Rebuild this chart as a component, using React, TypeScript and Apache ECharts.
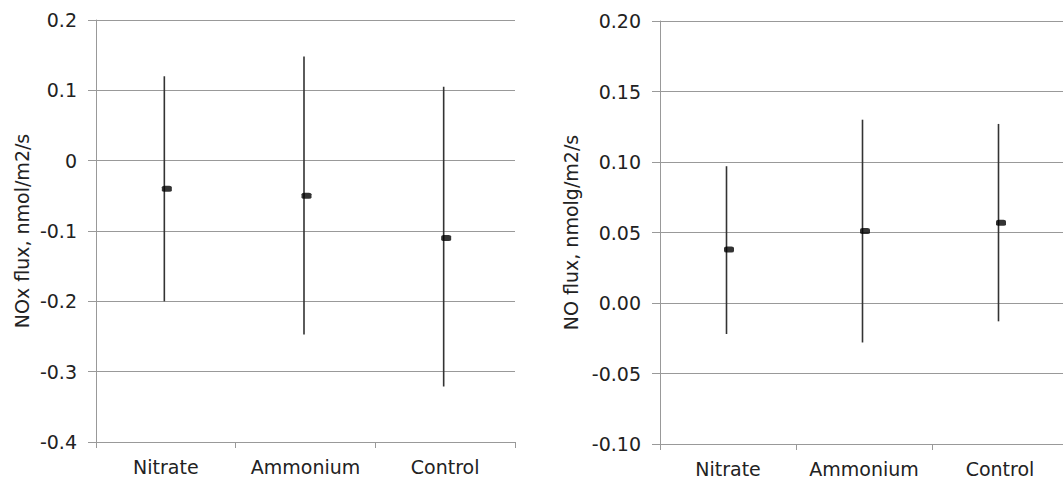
import React, { useEffect, useRef } from "react";
import * as echarts from "echarts";

const categories = ["Nitrate", "Ammonium", "Control"];

// Left panel: NOx flux
const noxMean = [-0.04, -0.05, -0.11];
const noxHigh = [0.12, 0.148, 0.105];
const noxLow = [-0.2, -0.247, -0.321];
const noxTicks = [-0.4, -0.3, -0.2, -0.1, 0, 0.1, 0.2];

// Right panel: NO flux
const noMean = [0.038, 0.051, 0.057];
const noHigh = [0.097, 0.13, 0.127];
const noLow = [-0.022, -0.028, -0.013];
const noTicks = [-0.1, -0.05, 0, 0.05, 0.1, 0.15, 0.2];

const FONT = "DejaVu Sans";
const TEXT = "#222";
const GRID = "#999";

function errorBarSeries(idx: number, low: number[], high: number[]) {
  return {
    type: "custom",
    xAxisIndex: idx,
    yAxisIndex: idx,
    data: categories.map((_, i) => [i, low[i], high[i]]),
    encode: { x: 0, y: [1, 2] },
    z: 3,
    renderItem: (params: any, api: any) => {
      const x = api.value(0);
      const p1 = api.coord([x, api.value(1)]);
      const p2 = api.coord([x, api.value(2)]);
      return {
        type: "line",
        shape: { x1: p1[0] - 1.5, y1: p1[1], x2: p2[0] - 1.5, y2: p2[1] },
        style: { stroke: "#333", lineWidth: 1.6 },
      };
    },
  };
}

function meanSeries(idx: number, mean: number[]) {
  return {
    type: "scatter",
    xAxisIndex: idx,
    yAxisIndex: idx,
    data: categories.map((_, i) => [i, mean[i]]),
    symbol: "roundRect",
    symbolSize: [10, 6],
    symbolOffset: [1, 0],
    itemStyle: { color: "#000" },
    z: 4,
  };
}

function yAxis(idx: number, ticks: number[], name: string, gap: number, digits: number | null) {
  return {
    type: "value",
    gridIndex: idx,
    min: ticks[0],
    max: ticks[ticks.length - 1],
    interval: ticks[1] - ticks[0],
    name,
    nameLocation: "middle",
    nameGap: gap,
    nameTextStyle: { fontFamily: FONT, fontSize: 19, color: TEXT },
    axisLine: { show: true, lineStyle: { color: GRID, width: 1 } },
    axisTick: { show: true, length: 8, lineStyle: { color: GRID } },
    axisLabel: {
      fontFamily: FONT,
      fontSize: 19,
      color: TEXT,
      margin: 19,
      formatter: (v: number) =>
        digits === null ? String(Math.round(v * 10) / 10) : v.toFixed(digits),
    },
    splitLine: { show: true, lineStyle: { color: GRID, width: 1 } },
  };
}

function xAxis(idx: number) {
  return {
    type: "category",
    gridIndex: idx,
    data: categories,
    boundaryGap: true,
    axisLine: { show: true, onZero: false, lineStyle: { color: GRID, width: 1 } },
    axisTick: { show: true, length: 6, alignWithLabel: false, interval: 0, lineStyle: { color: GRID } },
    axisLabel: { fontFamily: FONT, fontSize: 19, color: TEXT, margin: 15, interval: 0, hideOverlap: false },
    splitLine: { show: false },
  };
}

export default function App() {
  const ref = useRef<HTMLDivElement>(null);
  useEffect(() => {
    document.body.style.margin = "0";
    const chart = echarts.init(ref.current!, undefined, { renderer: "svg" });
    chart.setOption({
      animation: false,
      backgroundColor: "#fff",
      grid: [
        { left: 96, top: 20, width: 419, height: 422, outerBoundsMode: "none", containLabel: false },
        { left: 660, top: 21, width: 408, height: 423, outerBoundsMode: "none", containLabel: false },
      ],
      xAxis: [xAxis(0), xAxis(1)],
      yAxis: [
        yAxis(0, noxTicks, "NOx flux, nmol/m2/s", 65, null),
        yAxis(1, noTicks, "NO flux, nmolg/m2/s", 80, 2),
      ],
      series: [
        errorBarSeries(0, noxLow, noxHigh),
        meanSeries(0, noxMean),
        errorBarSeries(1, noLow, noHigh),
        meanSeries(1, noMean),
      ],
    });
    return () => chart.dispose();
  }, []);
  return (
    <div
      ref={ref}
      style={{ position: "fixed", left: 0, top: 0, width: 1063, height: 480, background: "#fff" }}
    />
  );
}
